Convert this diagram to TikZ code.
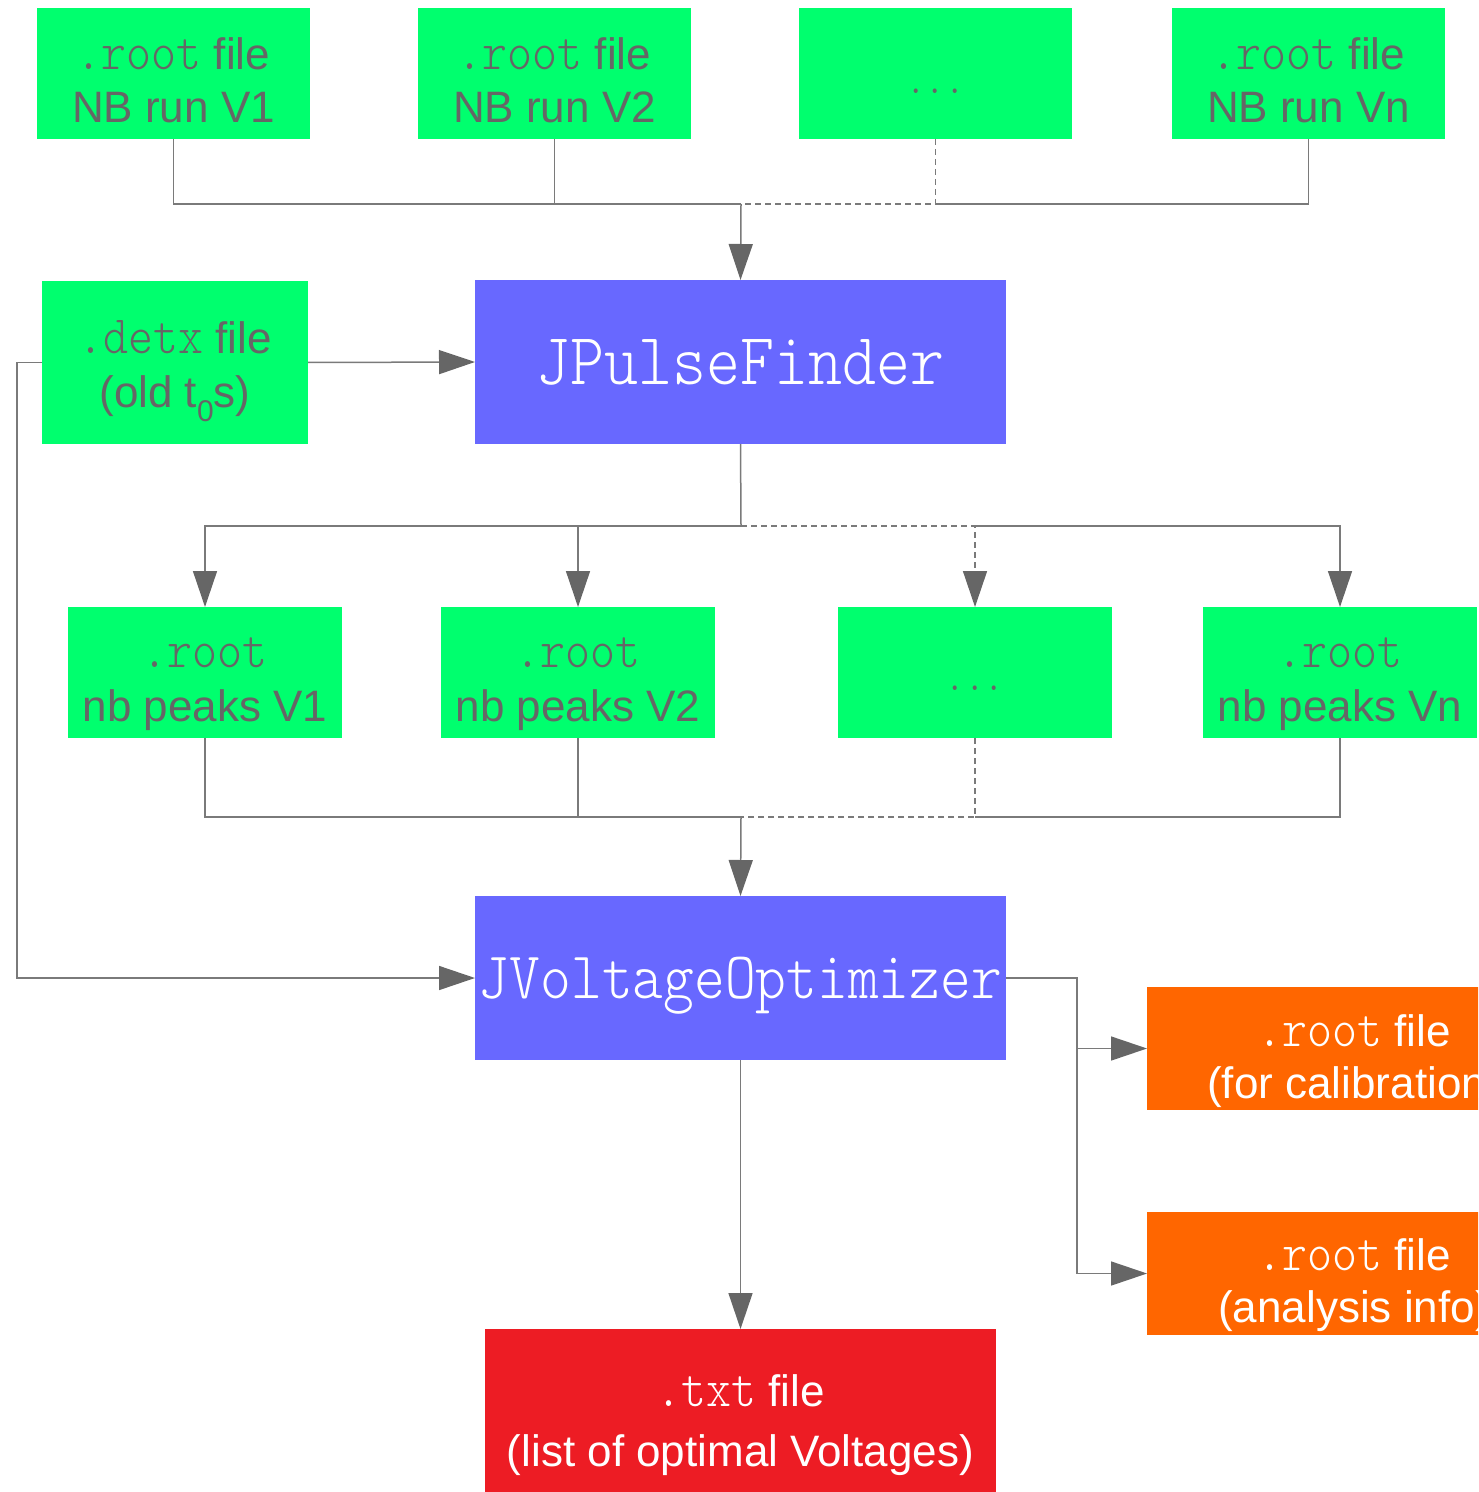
\documentclass[tikz,border=0pt]{standalone}
\usepackage{fontspec}
\setmainfont{Liberation Sans}
\newfontfamily\codefont{lmmonolt10-regular.otf}[FakeStretch=0.88]
\usetikzlibrary{arrows.meta}
\definecolor{boxgreen}{HTML}{00FF6E}
\definecolor{boxblue}{HTML}{6868FF}
\definecolor{boxorange}{HTML}{FF6600}
\definecolor{boxred}{HTML}{ED1C24}
\definecolor{txtgray}{HTML}{666666}
\definecolor{linegray}{HTML}{7A7A7A}
\definecolor{arrowgray}{HTML}{666666}
\newcommand\mono[2][27pt]{{\codefont\fontsize{#1}{#1}\selectfont #2}}
\newcommand\twol[4]{\raisebox{#1}[\height][\depth]{\fontsize{22pt}{#2}\selectfont\begin{tabular}{@{}c@{}}#3\\#4\end{tabular}}}
\newcommand\shiftbox[2]{\raisebox{#1}[\height][\depth]{#2}}
\newcommand\lowsub[1]{\raisebox{-7pt}{\fontsize{15pt}{15pt}\selectfont #1}}
\tikzset{
  box/.style={inner sep=0pt, outer sep=0pt, draw=none},
  gbox/.style={box, fill=boxgreen, text=txtgray},
  bbox/.style={box, fill=boxblue, text=white},
  obox/.style={box, fill=boxorange, text=white},
  rbox/.style={box, fill=boxred, text=white},
  sz/.style 2 args={minimum width=#1*0.5pt, minimum height=#2*0.5pt},
  conn/.style={draw=linegray, line width=0.75pt},
  arr/.style={conn, -{Triangle[length=18pt,width=12pt,color=arrowgray]}},
  dsh/.style={dash pattern=on 3pt off 2pt},
}
\begin{document}
\begin{tikzpicture}[x=0.5pt, y=-0.5pt]
\useasboundingbox (0,0) rectangle (1478,1492);
\clip (0,0) rectangle (1478,1492);

% top row
\node[gbox, sz={273}{131}] (r1) at (173.5,73.5) {\twol{-6.2pt}{26.5pt}{\mono{.root} file}{NB run V1}};
\node[gbox, sz={273}{131}] (r2) at (554.5,73.5) {\twol{-6.2pt}{26.5pt}{\mono{.root} file}{NB run V2}};
\node[gbox, sz={273}{131}] (r3) at (935.5,73.5) {\shiftbox{-9pt}{\mono[21pt]{...}}};
\node[gbox, sz={273}{131}] (r4) at (1308.5,73.5) {\twol{-6.2pt}{26.5pt}{\mono{.root} file}{NB run Vn}};

% detx and JPulseFinder
\node[gbox, sz={266}{163}] (detx) at (175,362.5) {\twol{-3.35pt}{27pt}{\mono{.detx} file}{(old t\lowsub{0}s)}};
\node[bbox, sz={531}{164}] (jpf) at (740.5,362) {\mono[36.8pt]{JPulseFinder}};

% second row
\node[gbox, sz={274}{131}] (p1) at (205,672.5) {\twol{-5.7pt}{27pt}{\mono{.root}}{nb peaks V1}};
\node[gbox, sz={274}{131}] (p2) at (578,672.5) {\twol{-5.7pt}{27pt}{\mono{.root}}{nb peaks V2}};
\node[gbox, sz={274}{131}] (p3) at (975,672.5) {\shiftbox{-7.75pt}{\mono[21pt]{...}}};
\node[gbox, sz={274}{131}] (p4) at (1340,672.5) {\twol{-5.7pt}{27pt}{\mono{.root}}{nb peaks Vn}};

% optimizer
\node[bbox, sz={531}{164}] (jvo) at (740.5,978) {\shiftbox{-4pt}{\mono[33.3pt]{JVoltageOptimizer}}};

% outputs
\node[obox, sz={414}{123}] (o1) at (1354,1048.5) {\twol{-6.55pt}{26pt}{\mono{.root} file}{(for calibration)}};
\node[obox, sz={414}{123}] (o2) at (1354,1273.5) {\twol{-6.05pt}{26pt}{\mono{.root} file}{(analysis info)}};
\node[rbox, sz={511}{164}] (txt) at (740.5,1411) {\twol{-6.5pt}{30pt}{\mono{.txt} file}{(list of optimal Voltages)}};

% junction coordinates
\coordinate (b1) at (741,204);
\coordinate (b1d) at (935.5,204);
\coordinate (b2) at (741,526);
\coordinate (b2d) at (975,526);
\coordinate (b3) at (741,817);
\coordinate (b3d) at (975,817);
\coordinate (lft) at (17,362.5);
\coordinate (rj) at (1077,978);

% top bus
\draw[conn] (r1.south) |- (b1);
\draw[conn] (r2.south) |- (b1);
\draw[conn, dsh] (r3.south) |- (b1);
\draw[conn] (r4.south) |- (b1d);
\draw[arr] (b1) -- (jpf.north);

% detx connections
\draw[arr] (detx.east) -- (jpf.west);
\draw[arr] (detx.west) -- (lft) |- (jvo.west);

% second bus
\draw[conn] (jpf.south) -- (b2);
\draw[arr] (b2) -| (p1.north);
\draw[arr] (b2) -| (p2.north);
\draw[arr, dsh] (b2) -| (p3.north);
\draw[arr] (b2d) -| (p4.north);

% third bus
\draw[conn] (p1.south) |- (b3);
\draw[conn] (p2.south) |- (b3);
\draw[conn, dsh] (p3.south) |- (b3);
\draw[conn] (p4.south) |- (b3d);
\draw[arr] (b3) -- (jvo.north);

% outputs
\draw[arr] (jvo.east) -- (rj) |- (o1.west);
\draw[arr] (rj) |- (o2.west);
\draw[arr] (jvo.south) -- (txt.north);
\end{tikzpicture}
\end{document}
